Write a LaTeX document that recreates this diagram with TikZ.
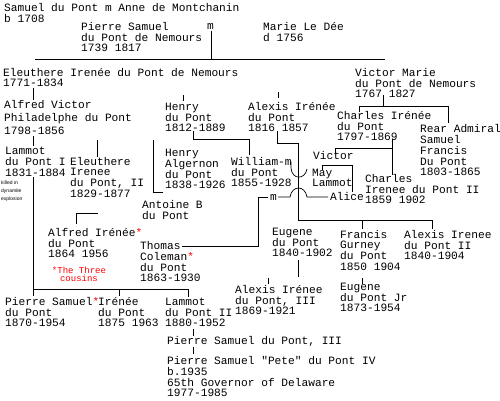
\documentclass[tikz,border=0pt]{standalone}
\usepackage{fontspec}
\newfontfamily\mono{Liberation Mono}
\newfontfamily\smallsans{Liberation Sans}
\newcommand{\rast}{\textcolor{red}{*}}
\newcommand{\tl}[1]{\begin{tabular}[t]{@{}l@{}}#1\end{tabular}}
\newcommand{\tc}[1]{\begin{tabular}[t]{@{}c@{}}#1\end{tabular}}
\tikzset{
  txt/.style={anchor=base west, inner sep=0pt, font=\mono\fontsize{11.2}{#1}\selectfont},
  txt/.default=10.5,
  tiny/.style={anchor=base west, inner sep=0pt, font=\smallsans\fontsize{5}{8}\selectfont},
  three/.style={anchor=base, inner sep=0pt, text=red, font=\mono\fontsize{9}{8}\selectfont},
  ln/.style={line width=0.7pt, black},
}
\begin{document}
\begin{tikzpicture}[x=1pt,y=-1pt]
\useasboundingbox[fill=white] (0,0) rectangle (500,400);
% people
\node[txt=11] (samuel) at (4,11) {\tl{Samuel du Pont m Anne de Montchanin\\b 1708}};
\node[txt=10] (pierre) at (81,30) {\tl{Pierre Samuel\\du Pont de Nemours\\1739 1817}};
\node[txt] (m1) at (207,29) {m};
\node[txt=10] (marie) at (263,30) {\tl{Marie Le Dée\\d 1756}};
\node[txt] (eleu) at (3,76) {\tl{Eleuthere Irenée du Pont de Nemours\\1771-1834}};
\node[txt=10] (victorm) at (355,76) {\tl{Victor Marie\\du Pont de Nemours\\1767 1827}};
\node[txt=13] (alfredv) at (4,108) {\tl{Alfred Victor\\Philadelphe du Pont\\1798-1856}};
\node[txt=10] (henry) at (165,110) {\tl{Henry\\du Pont\\1812-1889}};
\node[txt=10] (alexis) at (248,110) {\tl{Alexis Irénée\\du Pont\\1816 1857}};
\node[txt=10] (charles) at (337,119) {\tl{Charles Irénée\\du Pont\\1797-1869}};
\node[txt=10.5] (rear) at (420,132) {\tl{Rear Admiral\\Samuel\\Francis\\Du Pont\\1803-1865}};
\node[txt=11] (lammot) at (5,154) {\tl{Lammot\\du Pont I\\1831-1884}};
\node[txt=10.3] (eleu2) at (70,165) {\tl{Eleuthere\\Irenee\\du Pont, II\\1829-1877}};
\node[tiny] (killed) at (1,184) {\tl{killed in\\dynamite\\explosion}};
\node[txt=10] (halg) at (165,156) {\tl{Henry\\Algernon\\du Pont\\1838-1926}};
\node[txt=10] (william) at (231,165) {\tl{William-m\\du Pont\\1855-1928}};
\node[txt] (victor) at (313,159) {Victor};
\node[txt=9.5] (may) at (312,176) {\tl{May\\Lammot}};
\node[txt] (charles2) at (365,182) {\tl{Charles\\Irenee du Pont  II\\1859 1902}};
\node[txt] (alice) at (330,200) {Alice};
\node[txt] (m2) at (270,200) {m};
\node[txt=10] (antoine) at (142,208) {\tl{Antoine B\\du Pont}};
\node[txt=10] (alfredi) at (48,236) {\tl{Alfred Irénée\rast\\du Pont\\1864 1956}};
\node[three] (three) at (79,273) {\tc{*The Three\\cousins}};
\node[txt=10] (thomas) at (140,249) {\tl{Thomas\\Coleman\rast\\du Pont\\1863-1930}};
\node[txt=10] (eugene) at (272,235) {\tl{Eugene\\du Pont\\1840-1902}};
\node[txt=10.3] (francis) at (340,238) {\tl{Francis\\Gurney\\du Pont\\1850 1904}};
\node[txt=10] (alexis2) at (404,238) {\tl{Alexis Irenee\\du Pont  II\\1840-1904}};
\node[txt=10.5] (eugenejr) at (340,290) {\tl{Eugene\\du Pont  Jr\\1873-1954}};
\node[txt=10.5] (alexis3) at (235,293) {\tl{Alexis Irénee\\du Pont, III\\1869-1921}};
\node[txt=10.5] (pierre2) at (5,305) {\tl{Pierre Samuel\rast\\du Pont\\1870-1954}};
\node[txt=10.5] (irenee) at (98,305) {\tl{Irénée\\du Pont\\1875 1963}};
\node[txt=10.5] (lammot2) at (165,305) {\tl{Lammot\\du Pont II\\1880-1952}};
\node[txt] (pierre3) at (167,344) {Pierre Samuel du Pont, III};
\node[txt=10] (pierre4) at (167,364) {\tl{Pierre Samuel "Pete" du Pont IV\\b.1935\\65th Governor of Delaware\\1977-1985}};
% connectors
\draw[ln] (211,31) -- (211,59);
\draw[ln] (35,59) -- (385,59);
\draw[ln] (33,88) -- (33,100);
\draw[ln] (183,95) -- (183,101);
\draw[ln] (278,92) -- (278,98);
\draw[ln] (383,95) -- (383,106);
\draw[ln] (359,112) -- (359,106) -- (448,106) -- (448,123);
\draw[ln] (33,136) -- (33,146);
\draw[ln] (97,140) -- (97,157);
\draw[ln] (193,131) -- (193,139) -- (249,139) -- (249,155);
\draw[ln] (153,140) -- (153,192) -- (163,192);
\draw[ln] (277,131) -- (277,143) -- (298,143) -- (298,220);
\draw[ln] (298,220) -- (432,220) -- (432,229);
\draw[ln] (362,220) -- (362,229);
\draw[ln] (392,139) -- (392,175);
\draw[ln] (335,153) -- (335,148) -- (392,148);
\draw[ln] (322,170) -- (322,165) -- (352,165) -- (352,192);
\draw[ln] (290,162) -- (291,162) -- (291,168) .. controls (292,180) and (305,180) .. (307,169);
\draw[ln] (182,246) -- (258,246) -- (258,197) -- (268,197);
\draw[ln] (278,197) -- (290,197) .. controls (292,185) and (305,185) .. (307,197) -- (328,197);
\draw[ln] (98,213) -- (76,213) -- (76,224);
\draw[ln] (33,177) -- (33,296);
\draw[ln] (33,289) -- (188,289) -- (188,297);
\draw[ln] (119,289) -- (119,296);
\draw[ln] (193,329) -- (193,336);
\draw[ln] (193,347) -- (193,354);
\draw[ln] (298,260) -- (298,277);
\draw[ln] (268,278) -- (268,284);
\draw[ln] (362,278) -- (362,284);
\end{tikzpicture}
\end{document}
